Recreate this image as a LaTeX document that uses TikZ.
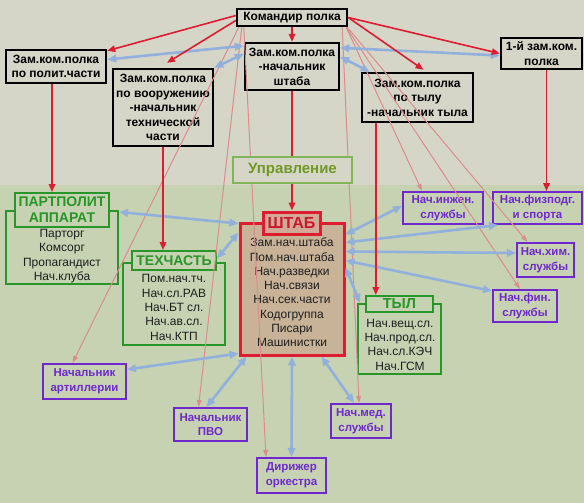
\documentclass[tikz,border=0pt]{standalone}
\usepackage{fontspec}
\setmainfont{Liberation Sans}
\usetikzlibrary{arrows.meta,calc}
\definecolor{bgtop}{RGB}{214,214,200}
\definecolor{bgbot}{RGB}{198,210,178}
\definecolor{redc}{RGB}{222,28,48}
\definecolor{pinkc}{RGB}{218,140,140}
\definecolor{bluec}{RGB}{146,176,220}
\definecolor{greenc}{RGB}{40,150,40}
\definecolor{purplec}{RGB}{110,40,205}
\definecolor{shtfill}{RGB}{200,178,152}
\definecolor{shttfill}{RGB}{210,168,150}
\definecolor{uprc}{RGB}{112,152,36}
\definecolor{uprb}{RGB}{130,180,90}
\definecolor{itemc}{RGB}{30,30,30}
\tikzset{
  blk/.style={draw=black, line width=2.4pt, fill=bgtop, inner sep=0pt, align=center,
    font=\fontsize{12}{14.4}\selectfont\bfseries},
  prp/.style={draw=purplec, line width=2pt, inner sep=0pt, align=center, text=purplec,
    font=\fontsize{11.5}{14.6}\selectfont\bfseries},
  grnbody/.style={draw=greenc, line width=2pt, inner sep=0pt},
  grntitle/.style={draw=greenc, line width=2pt, fill=bgbot, inner sep=0pt, align=center,
    text=greenc, font=\fontsize{14}{16}\selectfont\bfseries},
  itemtxt/.style={align=center, inner sep=0pt, text=itemc, font=\fontsize{12}{14.3}\selectfont},
  redar/.style={draw=redc, line width=1.6pt, -{Triangle[length=8pt,width=6.5pt]}},
  pinkar/.style={draw=pinkc, line width=1pt, -{Triangle[length=7pt,width=4.5pt]}},
  bluear/.style={draw=bluec, line width=2.6pt,
    {Triangle[length=9pt,width=7.5pt]}-{Triangle[length=9pt,width=7.5pt]}}
}
\begin{document}
\begin{tikzpicture}[x=1pt,y=-1pt]
\useasboundingbox (0,0) rectangle (584,503);
% background
\fill[bgtop] (0,0) rectangle (584,185);
\fill[bgbot] (0,185) rectangle (584,503);

% top level boxes
\node[blk, minimum width=110pt, minimum height=17pt] (cmd) at (292,17.5) {Командир полка};
\node[blk, minimum width=100pt, minimum height=33pt] (zpol) at (56,66.5) {Зам.ком.полка\\по полит.части};
\node[blk, minimum width=100pt, minimum height=77pt] (zvoor) at (163,107.5) {Зам.ком.полка\\по вооружению\\-начальник\\технической\\части};
\node[blk, minimum width=94pt, minimum height=47pt] (zsht) at (292,66.5) {Зам.ком.полка\\-начальник\\штаба};
\node[blk, minimum width=111pt, minimum height=49pt] (zty) at (417.5,97.5) {Зам.ком.полка\\по тылу\\-начальник тыла};
\node[blk, minimum width=81pt, minimum height=31pt] (z1) at (541.5,53.5) {1-й зам.ком.\\полка};

% groups
\node[grnbody, minimum width=112pt, minimum height=73pt] (ppb) at (62,247.5) {};
\node[grntitle, minimum width=94pt, minimum height=34pt] (ppt) at (62,210) {ПАРТПОЛИТ\\АППАРАТ};
\node[itemtxt] (ppi) at (62,256) {Парторг\\Комсорг\\Пропагандист\\Нач.клуба};

\node[grnbody, minimum width=102pt, minimum height=82pt] (tchb) at (174,304) {};
\node[grntitle, minimum width=84pt, minimum height=19pt] (tcht) at (174,260.5) {ТЕХЧАСТЬ};
\node[itemtxt] (tchi) at (174,307.5) {Пом.нач.тч.\\Нач.сл.РАВ\\Нач.БТ сл.\\Нач.ав.сл.\\Нач.КТП};

\node[draw=redc, line width=3pt, fill=shtfill, inner sep=0pt, minimum width=104pt, minimum height=132pt] (sht) at (292,289) {};
\node[draw=redc, line width=3pt, fill=shttfill, inner sep=0pt, minimum width=57pt, minimum height=22pt,
  text=redc!90!black, font=\fontsize{16}{18}\selectfont\bfseries] (shtt) at (291.5,223) {ШТАБ};
\node[itemtxt] (shti) at (292,292.5) {Зам.нач.штаба\\Пом.нач.штаба\\Нач.разведки\\Нач.связи\\Нач.сек.части\\Кодогруппа\\Писари\\Машинистки};

\node[grnbody, minimum width=83pt, minimum height=70pt] (tylb) at (399.5,339) {};
\node[grntitle, minimum width=67pt, minimum height=16pt, font=\fontsize{14.5}{16}\selectfont\bfseries] (tylt) at (399.5,304) {ТЫЛ};
\node[itemtxt] (tyli) at (400,344.5) {Нач.вещ.сл.\\Нач.прод.сл.\\Нач.сл.КЭЧ\\Нач.ГСМ};

% purple boxes
\node[prp, minimum width=80pt, minimum height=32pt] (inzh) at (443,208) {Нач.инжен.\\службы};
\node[prp, minimum width=89pt, minimum height=32pt] (fiz) at (537.5,208) {Нач.физподг.\\и спорта};
\node[prp, minimum width=57pt, minimum height=34pt] (him) at (545.5,260) {Нач.хим.\\службы};
\node[prp, minimum width=64pt, minimum height=32pt] (fin) at (525,306) {Нач.фин.\\службы};
\node[prp, minimum width=83pt, minimum height=35pt] (art) at (84.5,381.5) {Начальник\\артиллерии};
\node[prp, minimum width=73pt, minimum height=33pt] (pvo) at (210.5,424.5) {Начальник\\ПВО};
\node[prp, minimum width=60pt, minimum height=34pt] (med) at (361,421) {Нач.мед.\\службы};
\node[prp, minimum width=69pt, minimum height=35pt] (dir) at (291.5,475.5) {Дирижер\\оркестра};

% pink arrows from commander
\draw[pinkar] ([xshift=3pt]cmd.south west) -- ([xshift=-12pt]art.north);
\draw[pinkar] ([xshift=6pt]cmd.south west) -- ([xshift=-12pt]pvo.north);
\draw[pinkar] ([xshift=8pt]cmd.south west) -- ([xshift=10pt]dir.north west);
\draw[pinkar] ([xshift=-6pt]cmd.south east) -- ([xshift=-2pt]med.north);
\draw[pinkar] ([xshift=-2pt]cmd.south east) -- ([xshift=-21pt]inzh.north);
\draw[pinkar] ([xshift=-1pt]cmd.south east) -- ([xshift=-18pt]him.north);
\draw[pinkar] ([xshift=-2pt]cmd.south east) -- ([xshift=-5pt]fin.north);

% blue double arrows
\draw[bluear] ([yshift=7pt]zpol.east) -- ([yshift=-4pt]zsht.north west);
\draw[bluear] (zvoor.north east) -- ([yshift=-12pt]zsht.north west);
\draw[bluear] ([yshift=-6pt]zsht.north east) -- ([yshift=-2pt]z1.west);
\draw[bluear] ([yshift=-15pt]zsht.north east) -- ([xshift=9pt]zty.north west);
\draw[bluear] ([yshift=-2pt]ppb.north east) -- ([yshift=-2pt]sht.north west);
\draw[bluear] ([yshift=2pt]tcht.east) -- ([yshift=-11pt]sht.north west);
\draw[bluear] ([yshift=-13pt]sht.north east) -- ([yshift=2pt]inzh.west);
\draw[bluear] ([yshift=-21pt]sht.north east) -- ([xshift=6pt]fiz.south west);
\draw[bluear] ([yshift=-30pt]sht.north east) -- ([yshift=7pt]him.west);
\draw[bluear] ([yshift=-39pt]sht.north east) -- ([yshift=-2pt]fin.north west);
\draw[bluear] ([yshift=-46pt]sht.north east) -- ([xshift=3pt]tylb.north west);
\draw[bluear] ([yshift=3pt]sht.south west) -- ([yshift=12pt]art.east);
\draw[bluear] ([xshift=8pt]sht.south west) -- ([xshift=-4pt]pvo.north);
\draw[bluear] (sht.south) -- (dir.north);
\draw[bluear] ([xshift=-24pt]sht.south east) -- ([xshift=-7pt]med.north);

% red arrows
\draw[redar] ([yshift=2pt]cmd.west) -- ([yshift=-2pt]zpol.north east);
\draw[redar] ([yshift=-3pt]cmd.west) -- ([xshift=4pt,yshift=5pt]zvoor.north);
\draw[redar] (cmd.south) -- (zsht.north);
\draw[redar] (cmd.east) -- ([xshift=6pt,yshift=2pt]zty.north);
\draw[redar] (cmd.east) -- (z1.west);
\draw[redar] ([xshift=-4pt]zpol.south) -- ([xshift=-4pt]zpol.south |- ppt.north);
\draw[redar] (zvoor.south) -- (zvoor.south |- tcht.north);
\draw[redar] (zsht.south) -- (zsht.south |- shtt.north);
\draw[redar] ([xshift=15pt]zty.south west) -- ([xshift=15pt]zty.south west |- tylt.north);
\draw[redar] ([xshift=5pt]z1.south) -- ([xshift=5pt]z1.south |- fiz.north);

% Управление label
\node[draw=uprb, line width=2pt, fill=bgtop, inner sep=0pt, minimum width=119pt, minimum height=26pt,
  text=uprc, font=\fontsize{15}{17}\selectfont\bfseries] (upr) at (292.5,170) {Управление};
\end{tikzpicture}
\end{document}
